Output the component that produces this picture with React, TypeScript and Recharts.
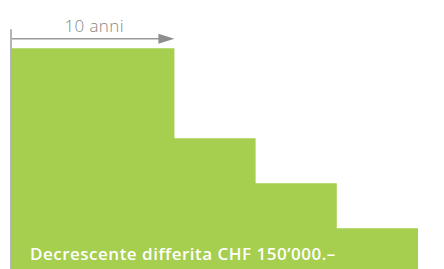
import React from 'react';
import { AreaChart, Area, XAxis, YAxis, ReferenceLine } from 'recharts';

// years (step starts) and insured capital in thousand CHF
const years = [0, 2, 3, 4, 5];
const capital = [150, 90, 60, 30, 30];
const arrowLabel = '10 anni';
const caption = 'Decrescente differita CHF 150\u2019000.\u2013';
const arrowLevel = 156.4;
const axisTop = 164;

const data = years.map((x, i) => ({ x, v: capital[i] }));

const GREEN = '#A6CE4F';

const AxisShape = (p: any) => {
  const { x1, y1, x2, y2 } = p;
  return <line x1={x1 - 1} y1={y1} x2={x2 - 1} y2={y2 + 2} stroke="#B4B4B4" strokeWidth={2} />;
};

const ArrowShape = (p: any) => {
  const { x1, y1, x2, y2 } = p;
  return (
    <g>
      <line x1={x1} y1={y1} x2={x2 - 14} y2={y2} stroke="#9A9A9A" strokeWidth={1.6} />
      <polygon points={`${x2},${y2} ${x2 - 16},${y2 - 5} ${x2 - 16},${y2 + 5}`} fill="#8E8E8E" />
      <text
        x={(x1 + x2) / 2 + 1}
        y={y1 - 6.5}
        textAnchor="middle"
        fill="#858585"
        fontFamily="'Open Sans', sans-serif"
        fontWeight={300}
        fontSize={17}
        letterSpacing={0.4}
      >
        {arrowLabel}
      </text>
    </g>
  );
};

export default function App() {
  return (
    <div style={{ position: 'absolute', left: 0, top: 0, width: 444, height: 269, overflow: 'hidden', background: '#fff' }}>
      <AreaChart
        width={444}
        height={274}
        data={data}
        margin={{ top: 48.3, right: 26, bottom: 0.7, left: 12 }}
        style={{ overflow: 'visible' }}
      >
        <XAxis type="number" dataKey="x" domain={[0, 5]} hide />
        <YAxis type="number" domain={[0, 150]} hide />
        <Area
          type="stepAfter"
          dataKey="v"
          stroke="none"
          fill={GREEN}
          fillOpacity={1}
          isAnimationActive={false}
        />
        <ReferenceLine
          segment={[{ x: 0, y: 0 }, { x: 0, y: axisTop }]}
          ifOverflow="visible"
          shape={AxisShape}
        />
        <ReferenceLine
          segment={[{ x: 0, y: arrowLevel }, { x: 2, y: arrowLevel }]}
          ifOverflow="visible"
          shape={ArrowShape}
        />
      </AreaChart>
      <svg width={444} height={269} style={{ position: 'absolute', left: 0, top: 0, pointerEvents: 'none' }}>
        <text
          x={30}
          y={259.5}
          fill="#ffffff"
          fontFamily="'Open Sans', sans-serif"
          fontWeight={600}
          fontSize={17}
          letterSpacing={0.5}
        >
          {caption}
        </text>
      </svg>
    </div>
  );
}
